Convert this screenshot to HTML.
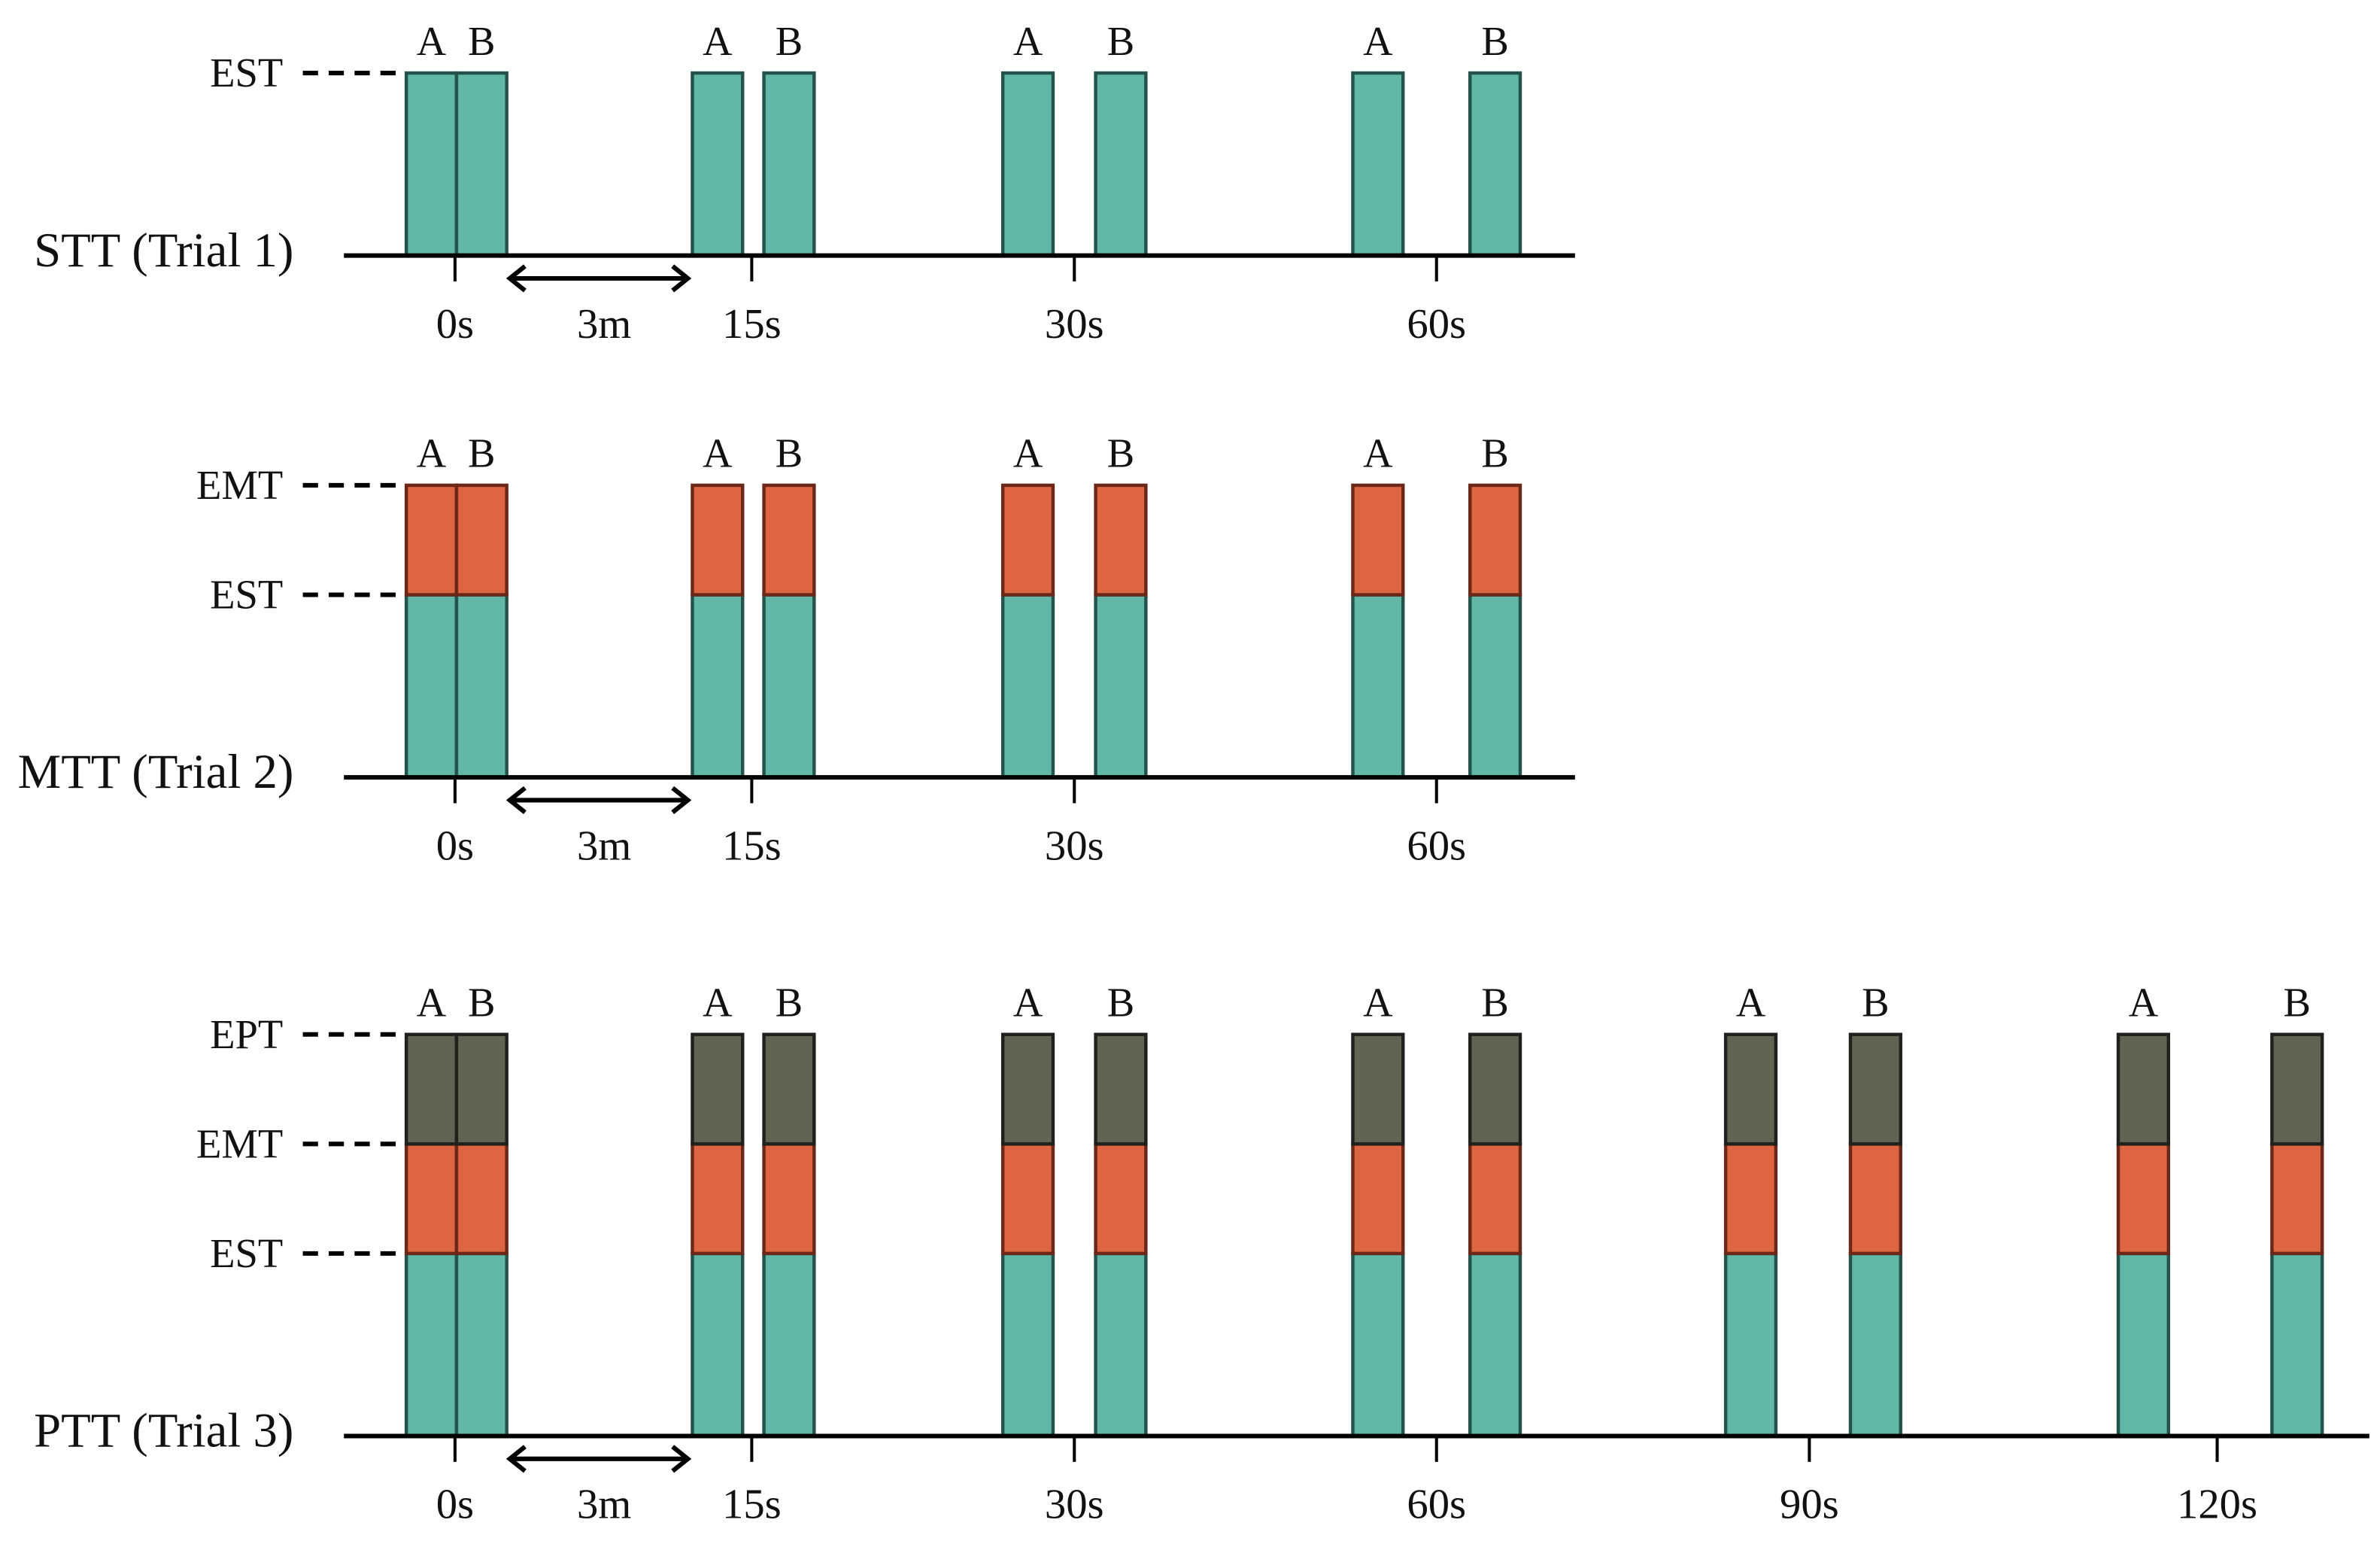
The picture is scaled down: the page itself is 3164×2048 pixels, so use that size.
<!DOCTYPE html>
<html><head><meta charset="utf-8"><style>
html,body{margin:0;padding:0;background:#fff;}
svg{display:block;}
text{font-family:"Liberation Serif",serif;fill:#111;}
</style></head><body>
<svg id="chart" width="3164" height="2048" viewBox="0 0 1564 1013" preserveAspectRatio="none" xmlns="http://www.w3.org/2000/svg"></svg>
<script>
// ---- data ----
const timeLabels = ["0s","15s","30s","60s","90s","120s"];
const levelNames = ["EST","EMT","EPT"];
const levelValues = [1.0, 1.6, 2.2];
const trialNames = ["STT (Trial 1)","MTT (Trial 2)","PTT (Trial 3)"];
const trialLevels = [1, 2, 3];      // number of stacked levels per trial
const trialSlots = [4, 4, 6];       // number of time points per trial
const gapLabel = "3m";

// ---- layout ----
const NS = "http://www.w3.org/2000/svg";
const svg = document.getElementById("chart");
const baselines = [168, 511, 944];
const axisEnds = [1035, 1035, 1557];
const axisStart = 226;
const tickX = [299, 494, 706, 944, 1189, 1457];
const barAX = [267, 455, 659, 889, 1134, 1392];
const barBX = [300, 502, 720, 966, 1216, 1493];
const barW = 33;
const pxPerUnit = 120;
const fills = ["#62b8a8", "#dd6541", "#636352"];
const strokes = ["#23534b", "#6b2818", "#1f221c"];
function yScale(base, v){ return base - v * pxPerUnit; }

function mk(tag, attrs, parent){
  const e = document.createElementNS(NS, tag);
  for (const k in attrs) e.setAttribute(k, attrs[k]);
  (parent || svg).appendChild(e);
  return e;
}
function txt(s, x, y, size, anchor, parent){
  const t = mk("text", {x:x, y:y, "font-size":size, "text-anchor":anchor}, parent);
  t.textContent = s;
  return t;
}

for (let p = 0; p < 3; p++) {
  const base = baselines[p];
  const g = mk("g", {});
  
  

  for (let s = 0; s < trialSlots[p]; s++) {
    [barAX[s], barBX[s]].forEach((bx, bi) => {
      for (let l = 0; l < trialLevels[p]; l++) {
        const lo = l === 0 ? 0 : levelValues[l-1];
        const hi = levelValues[l];
        const r = mk("rect", {x: bx, y: yScale(base, hi), width: barW, height: yScale(base, lo) - yScale(base, hi),
          fill: fills[l], stroke: strokes[l], "stroke-width": 2.2}, g);
        
        
      }
      const lab = txt(bi ? "B" : "A", bx + barW/2, yScale(base, levelValues[trialLevels[p]-1]) - 12, 27, "middle", g);
      
      
    });
  }

  const ax = mk("line", {x1: axisStart, y1: base, x2: axisEnds[p], y2: base, stroke: "#000", "stroke-width": 3}, g);
  
  
  for (let s = 0; s < trialSlots[p]; s++) {
    const tk = mk("line", {x1: tickX[s], y1: base, x2: tickX[s], y2: base + 17, stroke: "#000", "stroke-width": 2}, g);
    
    
    const tl = txt(timeLabels[s], tickX[s], base + 54, 28, "middle", g);
    
    
  }

  const ay = base + 15;
  const arr = mk("path", {d: `M335 ${ay} H452 M345 ${ay-8} L335 ${ay} L345 ${ay+8} M442 ${ay-8} L452 ${ay} L442 ${ay+8}`,
    fill: "none", stroke: "#000", "stroke-width": 3}, g);
  
  
  const gl = txt(gapLabel, 397, base + 54, 28, "middle", g);
  
  

  const tn = txt(trialNames[p], 193, base + 7, 32, "end", g);
  
  

  for (let l = 0; l < trialLevels[p]; l++) {
    const y = yScale(base, levelValues[l]);
    const ll = txt(levelNames[l], 186, y + 9, 27, "end", g);
    
    
    const d = mk("line", {x1: 199, y1: y, x2: 262, y2: y, stroke: "#000", "stroke-width": 3, "stroke-dasharray": "10 7"}, g);
    
    
  }
}
</script>
</body></html>
